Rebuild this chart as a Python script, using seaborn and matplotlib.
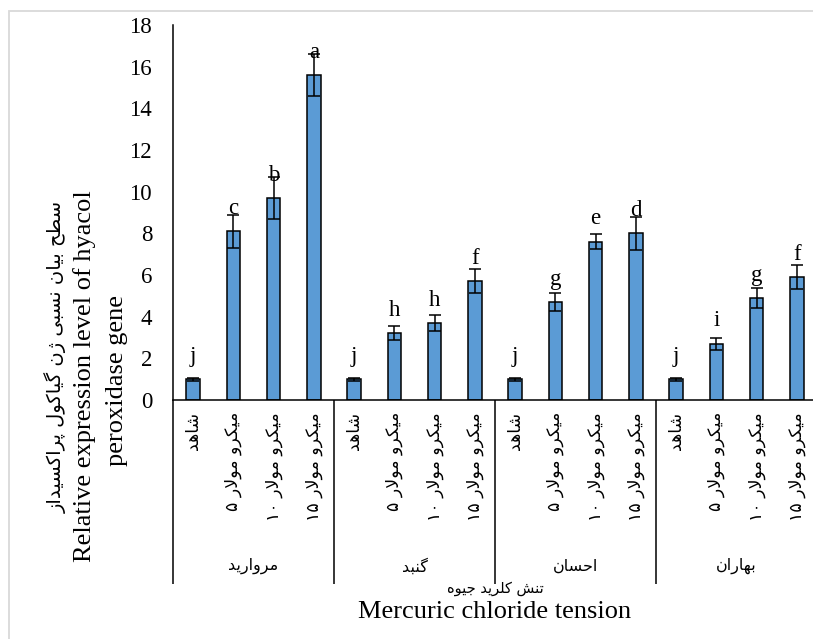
import re
import numpy as np
import pandas as pd
import matplotlib
matplotlib.use("Agg")
import matplotlib.pyplot as plt
from matplotlib.patches import Rectangle
import seaborn as sns

# ---- data -------------------------------------------------------------
groups = ["مروارید", "گنبد", "احسان", "بهاران"]
treatments = ["شاهد", "میکرو مولار ۵", "میکرو مولار ۱۰", "میکرو مولار ۱۵"]
expression = [1.0, 8.1, 9.7, 15.6,
              1.0, 3.2, 3.7, 5.7,
              1.0, 4.7, 7.6, 8.0,
              1.0, 2.7, 4.9, 5.9]
std_error = [0.08, 0.8, 1.0, 1.0,
             0.08, 0.33, 0.38, 0.58,
             0.08, 0.45, 0.35, 0.8,
             0.08, 0.28, 0.48, 0.58]
letters = ["j", "c", "b", "a",
           "j", "h", "h", "f",
           "j", "g", "e", "d",
           "j", "i", "g", "f"]
y_ticks = [0, 2, 4, 6, 8, 10, 12, 14, 16, 18]

ylabel_fa = "سطح بیان نسبی ژن گیاکول پراکسیداز"
ylabel_en = ["Relative expression level of hyacol", "peroxidase gene"]
xlabel_fa = "تنش کلرید جیوه"
xlabel_en = "Mercuric chloride tension"

# ---- minimal Persian shaping (matplotlib has no complex text layout) ----
FORMS = {  # isolated, final, initial, medial
    'ا': ('\uFE8D', '\uFE8E', None, None),
    'د': ('\uFEA9', '\uFEAA', None, None),
    'ر': ('\uFEAD', '\uFEAE', None, None),
    'ز': ('\uFEAF', '\uFEB0', None, None),
    'ژ': ('\uFB8A', '\uFB8B', None, None),
    'و': ('\uFEED', '\uFEEE', None, None),
    'ب': ('\uFE8F', '\uFE90', '\uFE91', '\uFE92'),
    'پ': ('\uFB56', '\uFB57', '\uFB58', '\uFB59'),
    'ت': ('\uFE95', '\uFE96', '\uFE97', '\uFE98'),
    'ج': ('\uFE9D', '\uFE9E', '\uFE9F', '\uFEA0'),
    'ح': ('\uFEA1', '\uFEA2', '\uFEA3', '\uFEA4'),
    'س': ('\uFEB1', '\uFEB2', '\uFEB3', '\uFEB4'),
    'ش': ('\uFEB5', '\uFEB6', '\uFEB7', '\uFEB8'),
    'ط': ('\uFEC1', '\uFEC2', '\uFEC3', '\uFEC4'),
    'ک': ('\uFB8E', '\uFB8F', '\uFB90', '\uFB91'),
    'گ': ('\uFB92', '\uFB93', '\uFB94', '\uFB95'),
    'ل': ('\uFEDD', '\uFEDE', '\uFEDF', '\uFEE0'),
    'م': ('\uFEE1', '\uFEE2', '\uFEE3', '\uFEE4'),
    'ن': ('\uFEE5', '\uFEE6', '\uFEE7', '\uFEE8'),
    'ه': ('\uFEE9', '\uFEEA', '\uFEEB', '\uFEEC'),
    'ی': ('\uFBFC', '\uFBFD', '\uFBFE', '\uFBFF'),
}
LAM_ALEF = ('\uFEFB', '\uFEFC')


def _dual(c):
    return c in FORMS and FORMS[c][2] is not None


def persian(text):
    seq, i = [], 0
    while i < len(text):
        if text[i] == 'ل' and i + 1 < len(text) and text[i + 1] == 'ا':
            seq.append('LA')
            i += 2
        else:
            seq.append(text[i])
            i += 1
    out = []
    for k, c in enumerate(seq):
        prev = seq[k - 1] if k > 0 else None
        nxt = seq[k + 1] if k + 1 < len(seq) else None
        jp = prev is not None and _dual(prev)
        if c == 'LA':
            out.append(LAM_ALEF[1] if jp else LAM_ALEF[0])
            continue
        if c not in FORMS:
            out.append(c)
            continue
        iso, fin, ini, med = FORMS[c]
        jn = ini is not None and nxt is not None and (nxt in FORMS or nxt == 'LA')
        if jp and jn:
            out.append(med)
        elif jp:
            out.append(fin)
        elif jn:
            out.append(ini)
        else:
            out.append(iso)
    visual = ''.join(out)[::-1]
    return re.sub(r'[۰-۹0-9]+', lambda m: m.group(0)[::-1], visual)


# ---- table for seaborn ------------------------------------------------
keys = [f"{g}|{t}" for g in groups for t in treatments]
df = pd.DataFrame({"key": keys, "value": expression})

# ---- figure -----------------------------------------------------------
W, H = 813, 639
sns.set_theme(style="white")
plt.rcParams["font.family"] = ["Liberation Serif", "DejaVu Sans"]
plt.rcParams["axes.linewidth"] = 1.1
plt.rcParams["text.color"] = "black"
plt.rcParams["ytick.labelcolor"] = "black"
plt.rcParams["ytick.color"] = "black"

fig = plt.figure(figsize=(W / 100, H / 100), dpi=100)
left_px, right_px, zero_px, top_px = 173, 817, 400, 25
ax = fig.add_axes([left_px / W, 1 - zero_px / H,
                   (right_px - left_px) / W, (zero_px - top_px) / H])

bar_blue = "#5B9BD5"
sns.barplot(data=df, x="key", y="value", order=keys, color=bar_blue,
            saturation=1, width=0.33, edgecolor="black", linewidth=1.1,
            errorbar=None, ax=ax)
xpos = np.arange(len(keys))
ax.errorbar(xpos, expression, yerr=std_error, fmt="none", ecolor="black",
            elinewidth=1.1, capsize=4.5, capthick=1.1, zorder=5)

for x, v, lab in zip(xpos, expression, letters):
    ax.annotate(lab, (x, v), xytext=(0, 12.5), textcoords="offset points",
                ha="center", va="baseline", fontsize=16.5, color="black",
                family="Liberation Serif", zorder=6)

ax.set_xlim(-0.5, len(keys) - 0.5)
ax.set_ylim(0, 18)
ax.set_yticks(y_ticks)
ax.set_yticklabels([str(t) for t in y_ticks])
ax.tick_params(axis="y", length=0, pad=15, labelsize=16.5)
ax.set_xticks([])
ax.set_xlabel("")
ax.set_ylabel("")
for side in ("top", "right"):
    ax.spines[side].set_visible(False)
for side in ("left", "bottom"):
    ax.spines[side].set_color("black")

# ---- multi-level category axis ----------------------------------------
xt = ax.get_xaxis_transform()
ax_h = zero_px - top_px
def below(px):
    return -(px - zero_px) / ax_h

for gi, g in enumerate(groups):
    for ti, t in enumerate(treatments):
        ax.text(gi * len(treatments) + ti, below(412), persian(t),
                transform=xt, rotation=90, ha="center", va="top",
                fontsize=12.5, family="DejaVu Sans", color="black")
    ax.text(gi * len(treatments) + 1.5, below(566), persian(g),
            transform=xt, ha="center", va="center",
            fontsize=11.5, family="DejaVu Sans", color="black")

for b in np.arange(-0.5, len(keys), len(treatments)):
    ax.plot([b, b], [0, below(584)], transform=xt, color="black",
            lw=1.1, clip_on=False, solid_capstyle="butt")

# ---- axis titles ------------------------------------------------------
cx = (left_px + right_px) / 2 / W
fig.text(cx, 1 - 588 / H, persian(xlabel_fa), ha="center", va="center",
         fontsize=10.5, family="DejaVu Sans")
fig.text(cx, 1 - 612 / H, xlabel_en, ha="center", va="center",
         fontsize=19, family="Liberation Serif")

fig.text(56 / W, 1 - 357 / H, persian(ylabel_fa), rotation=90,
         ha="center", va="center", fontsize=14, family="DejaVu Sans")
fig.text(85 / W, 1 - 376 / H, ylabel_en[0], rotation=90,
         ha="center", va="center", fontsize=19, family="Liberation Serif")
fig.text(117 / W, 1 - 380 / H, ylabel_en[1], rotation=90,
         ha="center", va="center", fontsize=19, family="Liberation Serif")

# light chart-area frame
fig.patches.append(Rectangle((9 / W, -0.2), 1.2, 1 - 11 / H + 0.2,
                             transform=fig.transFigure, fill=False,
                             edgecolor="#D9D9D9", lw=1.3, zorder=0))

fig.savefig("out.png", dpi=100)
